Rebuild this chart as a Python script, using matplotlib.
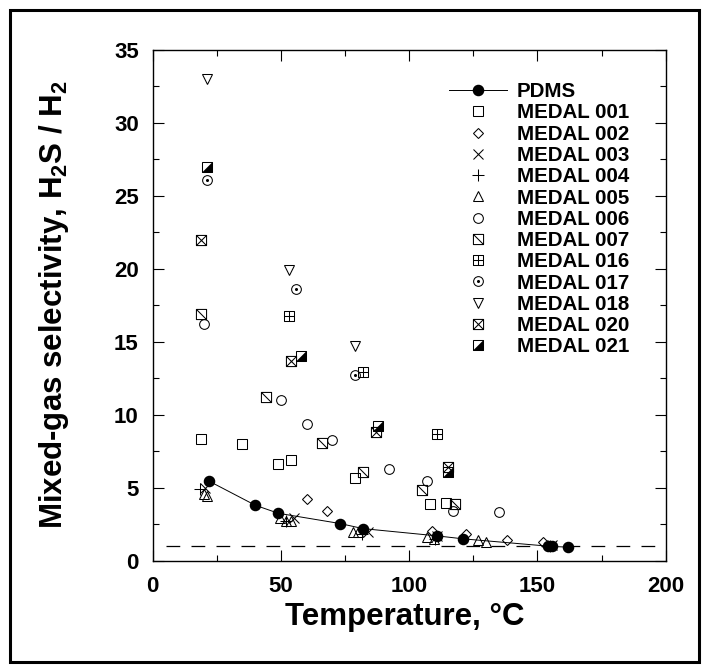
import matplotlib
matplotlib.use('Agg')
import matplotlib.pyplot as plt
from matplotlib.path import Path
from matplotlib.patches import Rectangle
from matplotlib.ticker import MultipleLocator

plt.rcParams['font.family'] = 'Liberation Sans'
plt.rcParams['font.weight'] = 'bold'
plt.rcParams['mathtext.fontset'] = 'custom'
plt.rcParams['mathtext.rm'] = 'Liberation Sans:bold'
plt.rcParams['mathtext.bf'] = 'Liberation Sans:bold'
plt.rcParams['mathtext.default'] = 'bf'

# data (temperature in C, selectivity H2S/H2)
pdms_t = [22, 40, 49, 73, 82, 111, 121, 154, 155.5, 162]
pdms_s = [5.45, 3.8, 3.25, 2.55, 2.2, 1.7, 1.5, 1.0, 0.98, 0.93]

m001_t = [19, 35, 49, 54, 79, 108, 114.5]
m001_s = [8.35, 8.0, 6.6, 6.9, 5.7, 3.9, 3.95]
m002_t = [60, 68, 109, 122, 138, 152]
m002_s = [4.25, 3.4, 2.05, 1.85, 1.45, 1.3]
m003_t = [20.5, 55, 84, 111, 155.5]
m003_s = [5.0, 2.95, 2.0, 1.7, 1.1]
m004_t = [18.5, 52, 81.5, 110, 155]
m004_s = [4.9, 2.7, 1.8, 1.5, 1.0]
m005_t = [20, 21, 49.5, 52, 54, 78, 80, 107, 109.5, 127, 130]
m005_s = [4.6, 4.45, 2.9, 2.7, 2.75, 2.0, 2.0, 1.6, 1.5, 1.4, 1.3]
m006_t = [20, 50, 60, 70, 92, 107, 117, 135]
m006_s = [16.25, 11.0, 9.35, 8.3, 6.3, 5.45, 3.4, 3.35]
m007_t = [19, 44, 66, 82, 105, 118]
m007_s = [16.9, 11.2, 8.1, 6.1, 4.85, 3.9]
m016_t = [53, 82, 111]
m016_s = [16.75, 12.9, 8.7]
m017_t = [21, 56, 79]
m017_s = [26.1, 18.6, 12.75]
m018_t = [21, 53, 79]
m018_s = [33.0, 19.95, 14.7]
m020_t = [19, 54, 87, 115]
m020_s = [22.0, 13.7, 8.85, 6.4]
m021_t = [21, 58, 88, 115]
m021_s = [27.0, 14.0, 9.2, 6.1]

baseline = 1.0

# custom markers
def square_with(segments):
    verts = [(-1, -1), (1, -1), (1, 1), (-1, 1), (-1, -1)]
    codes = [Path.MOVETO, Path.LINETO, Path.LINETO, Path.LINETO, Path.CLOSEPOLY]
    for a, b in segments:
        verts += [a, b]
        codes += [Path.MOVETO, Path.LINETO]
    return Path(verts, codes)

diag_sq = square_with([((-1, 1), (1, -1))])
cross_sq = square_with([((-1, 1), (1, -1)), ((-1, -1), (1, 1))])
plus_sq = square_with([((-1, 0), (1, 0)), ((0, -1), (0, 1))])
half_tri = Path([(-1, -1), (1, -1), (1, 1), (-1, -1)],
                [Path.MOVETO, Path.LINETO, Path.LINETO, Path.CLOSEPOLY])

fig = plt.figure(figsize=(7.09, 6.70), dpi=100)
ax = fig.add_axes([0.2154, 0.1631, 0.7236, 0.7623])

ew = 0.75
op = dict(ls='none', mfc='none', mec='k', mew=ew)

handles = []
labels = []

ax.axhline(baseline, xmin=0.025, color='k', lw=0.9, dashes=(11, 9), zorder=1)

h, = ax.plot(m001_t, m001_s, marker='s', ms=7.3, **op)
handles.append(h); labels.append('MEDAL 001')
h, = ax.plot(m002_t, m002_s, marker='D', ms=5.0, **op)
handles.append(h); labels.append('MEDAL 002')
h, = ax.plot(m003_t, m003_s, marker='x', ms=7.5, **op)
handles.append(h); labels.append('MEDAL 003')
h, = ax.plot(m004_t, m004_s, marker='+', ms=8, **op)
handles.append(h); labels.append('MEDAL 004')
h, = ax.plot(m005_t, m005_s, marker='^', ms=7.3, **op)
handles.append(h); labels.append('MEDAL 005')
h, = ax.plot(m006_t, m006_s, marker='o', ms=7.0, **op)
handles.append(h); labels.append('MEDAL 006')
h, = ax.plot(m007_t, m007_s, marker=diag_sq, ms=7.3, **op)
handles.append(h); labels.append('MEDAL 007')
h, = ax.plot(m016_t, m016_s, marker=plus_sq, ms=7.3, **op)
handles.append(h); labels.append('MEDAL 016')
h1, = ax.plot(m017_t, m017_s, marker='o', ms=7.0, **op)
h2, = ax.plot(m017_t, m017_s, ls='none', marker='o', ms=1.2, color='k')
handles.append((h1, h2)); labels.append('MEDAL 017')
h, = ax.plot(m018_t, m018_s, marker='v', ms=7.3, **op)
handles.append(h); labels.append('MEDAL 018')
h, = ax.plot(m020_t, m020_s, marker=cross_sq, ms=7.3, **op)
handles.append(h); labels.append('MEDAL 020')
h1, = ax.plot(m021_t, m021_s, marker='s', ms=7.3, **op)
h2, = ax.plot(m021_t, m021_s, ls='none', marker=half_tri, ms=7.3,
              mfc='k', mec='k', mew=0.4)
handles.append((h1, h2)); labels.append('MEDAL 021')

hp, = ax.plot(pdms_t, pdms_s, color='k', lw=0.7, marker='o', ms=7.3,
              mfc='k', mec='k', zorder=5)
handles.insert(0, hp); labels.insert(0, 'PDMS')

ax.set_xlim(0, 200)
ax.set_ylim(0, 35)
ax.xaxis.set_major_locator(MultipleLocator(50))
ax.xaxis.set_minor_locator(MultipleLocator(25))
ax.yaxis.set_major_locator(MultipleLocator(5))
ax.yaxis.set_minor_locator(MultipleLocator(2.5))
ax.tick_params(which='both', direction='in', top=True, right=True,
               width=0.8, labelsize=16)
ax.tick_params(which='major', length=8)
ax.tick_params(which='minor', length=4)
ax.tick_params(axis='x', pad=11)
ax.tick_params(axis='y', pad=10)
for sp in ax.spines.values():
    sp.set_linewidth(1.0)

ax.set_xlabel('Temperature, °C', fontsize=22.5, fontweight='bold')
ax.set_ylabel(r'Mixed-gas selectivity, H$_2$S / H$_2$', fontsize=22.5,
              fontweight='bold')
ax.xaxis.set_label_coords(0.492, -0.08)
ax.yaxis.set_label_coords(-0.16, 0.502)

ax.legend(handles, labels, loc='upper left', bbox_to_anchor=(0.557, 0.957),
          frameon=False, borderpad=0, fontsize=14.8, handlelength=2.85,
          handletextpad=0.45, labelspacing=0.11, numpoints=1)

fig.add_artist(Rectangle((0.0134, 0.012), 0.9725, 0.973,
                         transform=fig.transFigure, fill=False,
                         lw=2.2, ec='k'))

fig.savefig('out.png', dpi=100)
